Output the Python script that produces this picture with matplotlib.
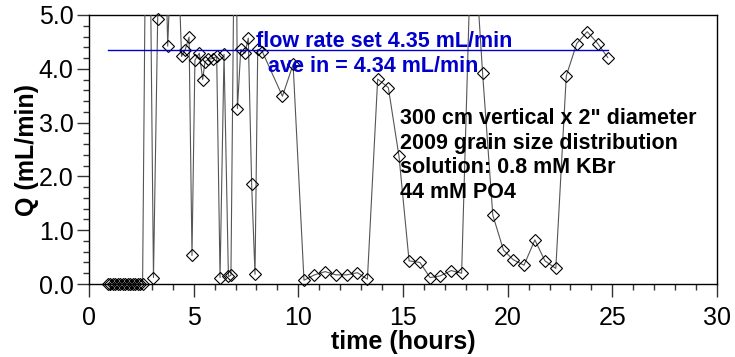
import matplotlib
matplotlib.use("Agg")
import matplotlib.pyplot as plt
import numpy as np
from matplotlib.ticker import MultipleLocator, FormatStrFormatter

plt.rcParams['font.family'] = ['Liberation Sans', 'DejaVu Sans']

# elapsed time (hours) and measured outflow Q (mL/min)
time_h = [0.90, 1.02, 1.14, 1.26, 1.38, 1.50, 1.62, 1.74, 1.86, 1.98, 2.10, 2.22, 2.34, 2.46, 2.56,
          2.80, 3.08, 3.28, 3.50, 3.76, 4.10, 4.42, 4.59, 4.78, 4.92, 5.06, 5.27, 5.43, 5.54,
          5.70, 5.90, 6.10, 6.26, 6.45, 6.66, 6.78, 7.00, 7.09, 7.25, 7.45, 7.61, 7.77, 7.93,
          8.06, 8.28, 9.24, 9.75, 10.27, 10.77, 11.28, 11.80, 12.31, 12.82, 13.30, 13.79, 14.30,
          14.81, 15.29, 15.81, 16.29, 16.77, 17.30, 17.80, 18.30, 18.80, 19.29, 19.80, 20.27,
          20.78, 21.30, 21.78, 22.30, 22.80, 23.30, 23.80, 24.30, 24.78]
flow_q = [0.00, 0.00, 0.00, 0.00, 0.00, 0.00, 0.00, 0.00, 0.00, 0.00, 0.00, 0.00, 0.00, 0.00, 0.00,
          11.0, 0.12, 4.92, 9.0, 4.42, 8.0, 4.23, 4.35, 4.59, 0.53, 4.16, 4.29, 3.80, 4.13,
          4.18, 4.19, 4.23, 0.12, 4.27, 0.14, 0.16, 9.0, 3.26, 4.36, 4.29, 4.57, 1.85, 0.18,
          4.36, 4.32, 3.49, 4.08, 0.07, 0.17, 0.23, 0.17, 0.17, 0.21, 0.09, 3.81, 3.65,
          2.37, 0.43, 0.40, 0.12, 0.15, 0.25, 0.20, 7.0, 3.93, 1.28, 0.63, 0.45,
          0.35, 0.82, 0.43, 0.29, 3.87, 4.47, 4.69, 4.47, 4.21]

set_rate = 4.35
ave_rate = 4.34

x_ticks = [0, 5, 10, 15, 20, 25, 30]
y_ticks = [0.0, 1.0, 2.0, 3.0, 4.0, 5.0]

notes = ['300 cm vertical x 2" diameter',
         '2009 grain size distribution',
         'solution: 0.8 mM KBr',
         '44 mM PO4']

W, H = 735, 357
Y_MAX = 5.0


def fig_xy(px, py):
    """Pixel position from the top-left corner -> figure fraction."""
    return px / W, 1 - py / H


fig = plt.figure(figsize=(W / 100, H / 100), dpi=100)
ax = fig.add_axes([89 / W, 1 - 284 / H, (717 - 89) / W, (284 - 15) / H])

# connecting line, clipped to the plot area
ax.plot(time_h, flow_q, color='#555555', lw=0.8, zorder=3)
# markers drawn whole (also those sitting on the zero line); readings above the scale are off-chart
q_on_scale = np.ma.masked_greater(np.asarray(flow_q), Y_MAX)
ax.plot(time_h, q_on_scale, ls='none', marker='D', ms=6.2,
        mfc='none', mec='black', mew=0.8, zorder=3, clip_on=False)

ax.plot([time_h[0], time_h[-1]], [set_rate, set_rate], color='#0000cc', lw=1.0, zorder=4)

ax.set_xlim(0, 30)
ax.set_ylim(0, Y_MAX)
ax.set_xticks(x_ticks)
ax.set_yticks(y_ticks)
ax.yaxis.set_major_formatter(FormatStrFormatter('%.1f'))
ax.xaxis.set_minor_locator(MultipleLocator(1))
ax.yaxis.set_minor_locator(MultipleLocator(0.2))
ax.tick_params(which='major', direction='out', length=9, width=1.0, labelsize=18, color='#333333')
ax.tick_params(which='minor', direction='out', length=4.5, width=1.0, color='#333333')
ax.tick_params(axis='x', which='major', pad=7)
ax.tick_params(axis='y', which='major', pad=2)
for s in ax.spines.values():
    s.set_linewidth(1.0)

ax.set_xlabel('time (hours)', fontsize=18, fontweight='bold', labelpad=0)
ax.set_ylabel('Q (mL/min)', fontsize=18, fontweight='bold', labelpad=0)

x0, y0 = fig_xy(256, 47)
fig.text(x0, y0, f'flow rate set {set_rate:.2f} mL/min', fontsize=15.5,
         fontweight='bold', color='#0000cc', va='baseline', ha='left', zorder=5)
x0, y0 = fig_xy(268, 72)
fig.text(x0, y0, f'ave in = {ave_rate:.2f} mL/min', fontsize=15.5,
         fontweight='bold', color='#0000cc', va='baseline', ha='left', zorder=5)

for i, line in enumerate(notes):
    x0, y0 = fig_xy(400, 124 + 24.5 * i)
    fig.text(x0, y0, line, fontsize=15.5, fontweight='bold', color='black',
             va='baseline', ha='left', zorder=5)

fig.savefig('out.png', dpi=100)
